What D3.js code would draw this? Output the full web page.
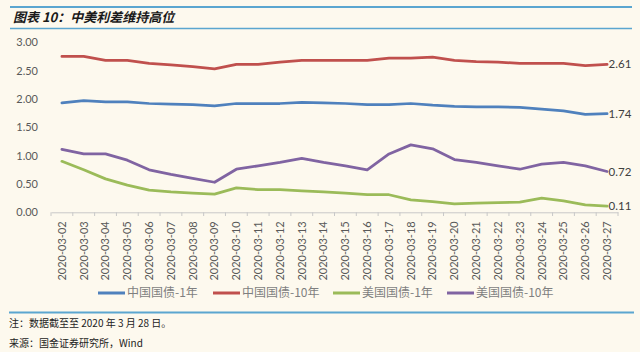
<!DOCTYPE html>
<html>
<head>
<meta charset="utf-8">
<script src="https://cdn.jsdelivr.net/npm/d3@7"></script>
<style>
  body { margin: 0; background: #fdf9ee; }
  svg { display: block; }
</style>
</head>
<body>
<div id="chart"></div>
<script>
// categories
const dates = ["2020-03-02","2020-03-03","2020-03-04","2020-03-05","2020-03-06","2020-03-07",
  "2020-03-08","2020-03-09","2020-03-10","2020-03-11","2020-03-12","2020-03-13","2020-03-14",
  "2020-03-15","2020-03-16","2020-03-17","2020-03-18","2020-03-19","2020-03-20","2020-03-21",
  "2020-03-22","2020-03-23","2020-03-24","2020-03-25","2020-03-26","2020-03-27"];

// series values (%)
const cn1y = [1.93,1.97,1.95,1.95,1.92,1.91,1.90,1.88,1.92,1.92,1.92,1.94,1.93,
  1.92,1.90,1.90,1.92,1.89,1.87,1.86,1.86,1.85,1.82,1.79,1.73,1.74];
const cn10y = [2.75,2.75,2.68,2.68,2.63,2.60,2.57,2.53,2.61,2.61,2.65,2.68,2.68,
  2.68,2.68,2.72,2.72,2.74,2.68,2.66,2.65,2.63,2.63,2.63,2.59,2.61];
const us1y = [0.90,0.75,0.59,0.48,0.39,0.36,0.34,0.32,0.43,0.40,0.40,0.38,0.36,
  0.34,0.31,0.31,0.22,0.19,0.15,0.16,0.17,0.18,0.25,0.20,0.13,0.11];
const us10y = [1.11,1.03,1.03,0.92,0.75,0.67,0.60,0.53,0.76,0.82,0.88,0.95,0.88,
  0.82,0.75,1.03,1.19,1.12,0.93,0.88,0.82,0.76,0.85,0.88,0.82,0.72];

const seriesNames = ["中国国债-1年", "中国国债-10年", "美国国债-1年", "美国国债-10年"];
const yTicks = [0, 0.5, 1, 1.5, 2, 2.5, 3];

const titleText = "图表 10：中美利差维持高位";
const noteText = "注：数据截至至 2020 年 3 月 28 日。";
const sourceText = "来源：国金证券研究所，Wind";

const W = 640, H = 352;
const colors = ["#4f81bd", "#c0504d", "#9bbb59", "#8064a2"];
const latin = "Lato, 'Noto Sans', sans-serif";
const cjk = "'Noto Sans CJK SC', sans-serif";

const svg = d3.select("#chart").append("svg")
  .attr("width", W).attr("height", H);

svg.append("rect").attr("width", W).attr("height", H).attr("fill", "#fdf9ee");

// header bars and title
svg.append("line").attr("x1", 10).attr("x2", 632).attr("y1", 7).attr("y2", 7)
  .attr("stroke", "#5ba6d0").attr("stroke-width", 2);
svg.append("line").attr("x1", 10).attr("x2", 632).attr("y1", 28.5).attr("y2", 28.5)
  .attr("stroke", "#5ba6d0").attr("stroke-width", 1.5);
svg.append("text").attr("x", 13).attr("y", 22)
  .attr("font-family", cjk).attr("font-size", 13).attr("font-weight", "bold")
  .attr("font-style", "italic").attr("fill", "#1a1a1a")
  .text(titleText);

// scales
const x = d3.scaleBand().domain(dates).range([51, 618]).padding(0);
const y = d3.scaleLinear().domain([0, 3]).range([212.3, 42.3]);
const cx = d => x(d) + x.bandwidth() / 2;

// y axis (labels only)
const yAxis = svg.append("g").attr("transform", "translate(43,0)")
  .call(d3.axisLeft(y).tickValues(yTicks).tickFormat(d3.format(".2f")).tickSize(0).tickPadding(5));
yAxis.select(".domain").remove();
yAxis.selectAll("text").attr("font-family", latin).attr("font-size", 11).attr("fill", "#595959");

// x axis
const xAxis = svg.append("g").attr("transform", "translate(0,212.3)")
  .call(d3.axisBottom(x).tickSize(0));
xAxis.select(".domain").attr("stroke", "#c8c8c8");
xAxis.selectAll(".tick line").remove();
xAxis.selectAll("text")
  .attr("font-family", latin).attr("font-size", 11).attr("fill", "#595959")
  .attr("transform", "rotate(-90)")
  .attr("text-anchor", "end")
  .attr("x", -9).attr("y", 0).attr("dy", "0.35em");
// tick marks between categories
svg.append("g").selectAll("line")
  .data(dates.concat(["end"]))
  .join("line")
  .attr("x1", (d, i) => i < dates.length ? x(d) : x(dates[dates.length - 1]) + x.bandwidth())
  .attr("x2", (d, i) => i < dates.length ? x(d) : x(dates[dates.length - 1]) + x.bandwidth())
  .attr("y1", 212.3).attr("y2", 216)
  .attr("stroke", "#c8c8c8");

// lines
const allSeries = [cn1y, cn10y, us1y, us10y];
const line = d3.line().x((d, i) => cx(dates[i])).y(d => y(d));
svg.append("g").selectAll("path")
  .data(allSeries)
  .join("path")
  .attr("d", d => line(d))
  .attr("fill", "none")
  .attr("stroke", (d, i) => colors[i])
  .attr("stroke-width", 2.75)
  .attr("stroke-linejoin", "round")
  .attr("stroke-linecap", "round");

// end labels
svg.append("g").selectAll("text")
  .data(allSeries)
  .join("text")
  .attr("x", cx(dates[dates.length - 1]) + 1.5)
  .attr("y", d => y(d[d.length - 1]))
  .attr("dy", "0.35em")
  .attr("font-family", latin).attr("font-size", 11.5).attr("fill", "#404040")
  .text(d => d3.format(".2f")(d[d.length - 1]));

// legend
const legendX = [98, 213, 333, 447];
const legend = svg.append("g").selectAll("g")
  .data(seriesNames)
  .join("g")
  .attr("transform", (d, i) => `translate(${legendX[i]},293)`);
legend.append("line").attr("x1", 0).attr("x2", 27).attr("y1", 0).attr("y2", 0)
  .attr("stroke", (d, i) => colors[i]).attr("stroke-width", 3);
legend.append("text").attr("x", 29).attr("y", 0).attr("dy", "0.36em")
  .attr("font-family", cjk).attr("font-size", 12).attr("fill", "#7f7f7f")
  .text(d => d);

// footer
svg.append("line").attr("x1", 9).attr("x2", 634).attr("y1", 312.5).attr("y2", 312.5)
  .attr("stroke", "#5ba6d0").attr("stroke-width", 2);
svg.append("text").attr("x", 9).attr("y", 326.5)
  .attr("font-family", cjk).attr("font-size", 10).attr("fill", "#222")
  .text(noteText);
svg.append("text").attr("x", 9).attr("y", 347)
  .attr("font-family", cjk).attr("font-size", 10).attr("fill", "#222")
  .text(sourceText);
</script>
</body>
</html>
